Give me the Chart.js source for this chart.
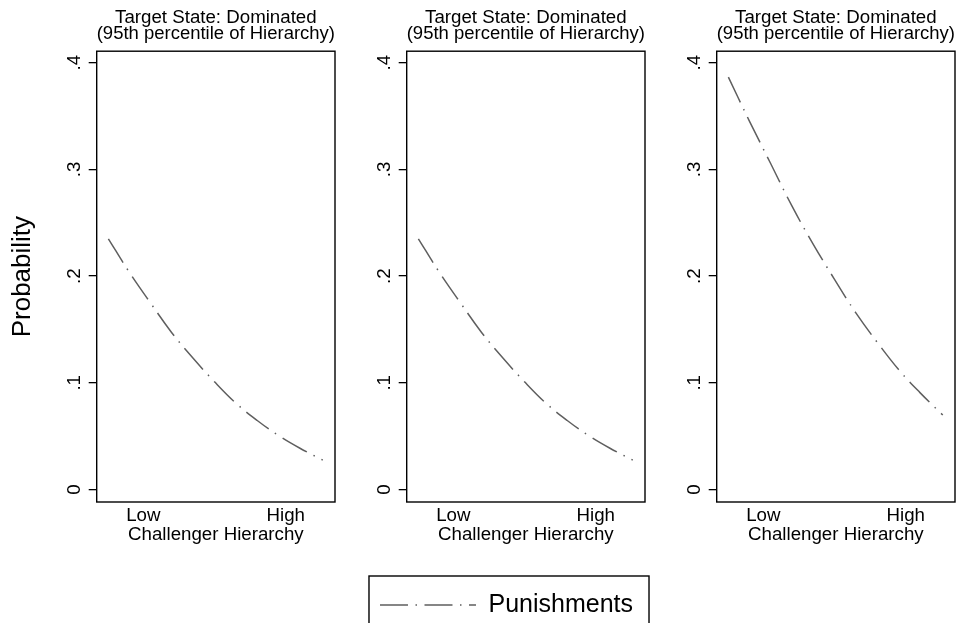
<!DOCTYPE html>
<html>
<head>
<meta charset="utf-8">
<script src="https://cdn.jsdelivr.net/npm/chart.js@4.4.1/dist/chart.umd.min.js"></script>
<style>
  html, body { margin: 0; padding: 0; background: #fff; overflow: hidden; }
  #wrap { position: relative; width: 959px; height: 623px; overflow: hidden; }
  canvas { position: absolute; }
</style>
</head>
<body>
<div id="wrap">
  <canvas id="p1" width="339" height="560" style="left:0px;top:0px"></canvas>
  <canvas id="p2" width="339" height="560" style="left:310px;top:0px"></canvas>
  <canvas id="p3" width="339" height="560" style="left:620px;top:0px"></canvas>
  <canvas id="leg" width="907" height="140" style="left:53px;top:560px"></canvas>
</div>
<script>
// values
const panelTitle = ["Target State: Dominated", "(95th percentile of Hierarchy)"];
const xLabels = ["Low", "High"];
const xTickValues = [0, 1];
const yTickValues = [0, 0.1, 0.2, 0.3, 0.4];
const hierarchy = [-0.245, -0.1, 0.05, 0.2, 0.35, 0.5, 0.65, 0.8, 0.95, 1.1, 1.26];
const punishLeft = [0.235, 0.204, 0.175, 0.147, 0.123, 0.101, 0.081, 0.0647, 0.0506, 0.0387, 0.0276];
const punishMiddle = [0.235, 0.204, 0.175, 0.147, 0.123, 0.101, 0.081, 0.0647, 0.0506, 0.0387, 0.0276];
const punishRight = [0.3865, 0.346, 0.306, 0.266, 0.230, 0.197, 0.1655, 0.138, 0.1124, 0.0908, 0.0698];
const seriesName = "Punishments";

const FONT = "'Liberation Sans', Arial, Helvetica, sans-serif";
const lineColor = "#5f5f5f";
const dashPattern = [28, 7.5, 1.5, 7.5];

// box around the plot region, like stata
const frame = {
    id: "frame",
    afterDraw(chart) {
        const a = chart.chartArea;
        const c = chart.ctx;
        c.save();
        c.strokeStyle = "#000";
        c.lineWidth = 1.4;
        c.strokeRect(a.left, a.top, a.right - a.left, a.bottom - a.top);
        c.restore();
    }
};

function makePanel(id, values, showYTitle) {
    const pts = hierarchy.map((x, i) => ({ x: x, y: values[i] }));
    return new Chart(document.getElementById(id), {
        type: "line",
        data: {
            datasets: [{
                label: seriesName,
                data: pts,
                borderColor: lineColor,
                borderWidth: 1.5,
                borderDash: dashPattern,
                pointRadius: 0,
                tension: 0.4,
                fill: false
            }]
        },
        options: {
            responsive: false,
            animation: false,
            devicePixelRatio: 1,
            layout: { padding: { left: 0, right: 4, top: 0, bottom: 0 } },
            plugins: {
                legend: { display: false },
                tooltip: { enabled: false },
                title: {
                    display: true,
                    fullSize: false,
                    text: panelTitle,
                    color: "#000",
                    font: { family: FONT, size: 18.7, weight: "normal", lineHeight: "15.3px" },
                    padding: { top: 10.55, bottom: 10.05 }
                }
            },
            scales: {
                x: {
                    type: "linear",
                    min: -0.327,
                    max: 1.346,
                    afterBuildTicks: s => { s.ticks = xTickValues.map(v => ({ value: v })); },
                    afterFit: s => { s.height = 58; },
                    grid: { display: false, drawTicks: false },
                    border: { display: false },
                    ticks: {
                        color: "#000",
                        padding: 2.3,
                        maxRotation: 0,
                        font: { family: FONT, size: 18.7 },
                        callback: (v) => xLabels[xTickValues.indexOf(v)]
                    },
                    title: {
                        display: true,
                        text: "Challenger Hierarchy",
                        color: "#000",
                        font: { family: FONT, size: 18.7 },
                        padding: { top: 0, bottom: 13.9 }
                    }
                },
                y: {
                    type: "linear",
                    min: -0.0117,
                    max: 0.4108,
                    afterBuildTicks: s => { s.ticks = yTickValues.map(v => ({ value: v })); },
                    afterFit: s => { s.width = 96.7; },
                    grid: {
                        drawOnChartArea: false,
                        drawTicks: true,
                        tickLength: 8,
                        color: "#000",
                        lineWidth: 1.3
                    },
                    border: { display: false },
                    ticks: {
                        color: "#000",
                        padding: 6.5,
                        minRotation: 90,
                        maxRotation: 90,
                        crossAlign: "center",
                        font: { family: FONT, size: 18.7 },
                        callback: (v) => v === 0 ? "0" : "." + Math.round(v * 10)
                    },
                    title: {
                        display: showYTitle,
                        text: "Probability",
                        color: "#000",
                        font: { family: FONT, size: 26 },
                        padding: { top: 7.4, bottom: 0 }
                    }
                }
            }
        },
        plugins: [frame]
    });
}

makePanel("p1", punishLeft, true);
makePanel("p2", punishMiddle, false);
makePanel("p3", punishRight, false);

// legend box drawn around the legend item
const legendFrame = {
    id: "legendFrame",
    afterDraw(chart) {
        const hb = chart.legend.legendHitBoxes[0];
        if (!hb) return;
        const c = chart.ctx;
        c.save();
        c.strokeStyle = "#000";
        c.lineWidth = 1.4;
        const left = hb.left - 11, right = hb.left + hb.width + 16;
        c.strokeRect(left, hb.top - 16.5, right - left, chart.height + 20);
        c.restore();
    }
};

new Chart(document.getElementById("leg"), {
    type: "line",
    data: {
        datasets: [{
            label: seriesName,
            data: [],
            borderColor: lineColor,
            borderWidth: 1.5,
            borderDash: dashPattern,
            pointRadius: 0
        }]
    },
    options: {
        responsive: false,
        animation: false,
        devicePixelRatio: 1,
        layout: { padding: { top: 22.5 } },
        scales: { x: { display: false }, y: { display: false } },
        plugins: {
            tooltip: { enabled: false },
            legend: {
                display: true,
                position: "top",
                labels: {
                    color: "#000",
                    font: { family: FONT, size: 25 },
                    usePointStyle: true,
                    pointStyle: "line",
                    pointStyleWidth: 96,
                    padding: 10,
                    generateLabels: (chart) => chart.data.datasets.map((ds, i) => ({
                        text: ds.label,
                        fillStyle: ds.borderColor,
                        strokeStyle: ds.borderColor,
                        lineWidth: ds.borderWidth,
                        lineDash: ds.borderDash,
                        pointStyle: "line",
                        rotation: 0,
                        fontColor: "#000",
                        hidden: false,
                        datasetIndex: i
                    }))
                }
            }
        }
    },
    plugins: [legendFrame]
});
</script>
</body>
</html>
